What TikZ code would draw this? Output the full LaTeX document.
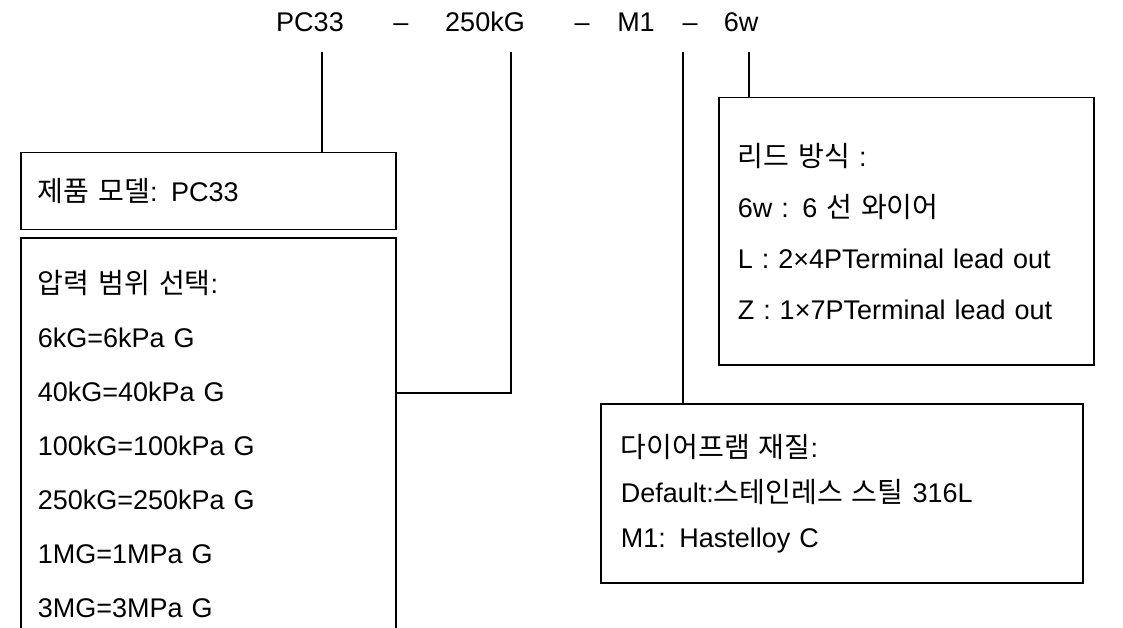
\documentclass[tikz,border=0pt]{standalone}
\usepackage{fontspec}
\setmainfont{Liberation Sans}
\newfontfamily\kr[Scale=1.04,WordSpace=1.8]{Noto Sans CJK KR}
\begin{document}
\begin{tikzpicture}[x=1pt,y=-1pt,
  every node/.style={font=\fontsize{27}{27}\selectfont},
  code/.style={anchor=base},
  box/.style={draw,line width=1.5pt,anchor=north west,inner ysep=0pt,align=left},
  lead/.style={line width=1.5pt}]
\useasboundingbox (0,0) rectangle (1123,628);
% top code
\node[code] (pc) at (310,32) {PC33};
\node[code] (d1) at (401,32) {–};
\node[code] (kg) at (485,32) {250kG};
\node[code] (d2) at (582,32) {–};
\node[code] (m1) at (636,32) {M1};
\node[code] (d3) at (690,32) {–};
\node[code] (w6) at (741,32) {6w};
% boxes
\node[box, inner xsep=17pt, text width=341pt, minimum height=77pt] (b1) at (20,152) {{\kr 제품 모델}: PC33};
\node[box, inner xsep=17pt, text width=341pt, minimum height=412pt,
      font=\fontsize{27}{54}\selectfont] (b2) at (20,237)
  {{\kr 압력 범위 선택}:\\6kG=6kPa G\\40kG=40kPa G\\100kG=100kPa G\\250kG=250kPa G\\1MG=1MPa G\\3MG=3MPa G};
\node[box, inner xsep=19pt, text width=337pt, minimum height=267pt,
      font=\fontsize{27}{51}\selectfont] (b3) at (718,97)
  {{\kr 리드 방식} :\\6w : 6 {\kr 선 와이어}\\L : 2×4PTerminal lead out\\Z : 1×7PTerminal lead out};
\node[box, inner xsep=20pt, text width=442pt, minimum height=179pt,
      font=\fontsize{27}{45}\selectfont] (b4) at (600,403)
  {{\kr 다이어프램 재질}:\\Default:{\kr 스테인레스 스틸} 316L\\M1: Hastelloy C};
% leads
\coordinate (pcl) at (322,52);
\coordinate (kgl) at (511,52);
\coordinate (kge) at (511,393);
\coordinate (m1l) at (683,52);
\coordinate (w6l) at (749,52);
\draw[lead] (pcl) -- (pcl |- b1.north);
\draw[lead] (kgl) -- (kge) -- (kge -| b2.east);
\draw[lead] (m1l) -- (m1l |- b4.north);
\draw[lead] (w6l) -- (w6l |- b3.north);
\end{tikzpicture}
\end{document}
